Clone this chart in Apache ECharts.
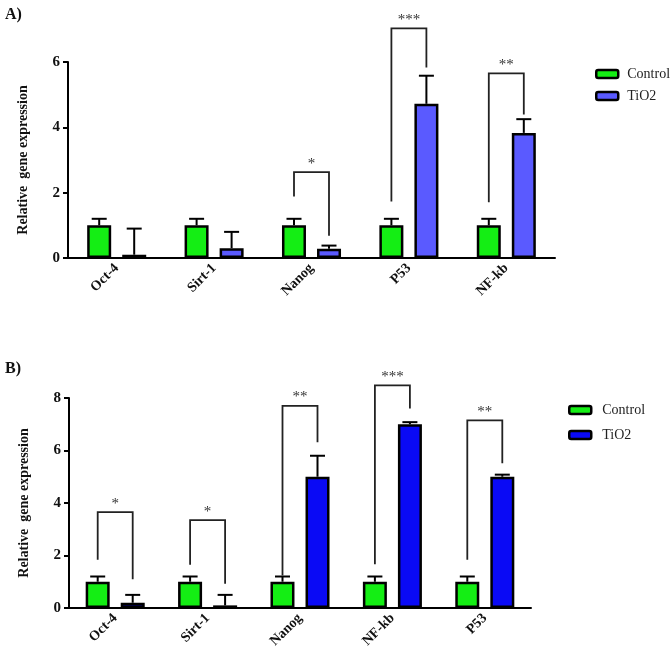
<!DOCTYPE html>
<html>
<head>
<meta charset="utf-8">
<script src="https://cdn.jsdelivr.net/npm/echarts@6/dist/echarts.min.js"></script>
<style>
html,body{margin:0;padding:0;background:#fff;}
#chart{width:671px;height:658px;}
</style>
</head>
<body>
<div id="chart"></div>
<script>
// ---- Panel A data ----
const categoriesA = ['Oct-4', 'Sirt-1', 'Nanog', 'P53', 'NF-kb'];
const controlA = [1, 1, 1, 1, 1];
const controlErrA = [0.2, 0.2, 0.2, 0.2, 0.2];
const tio2A = [0.1, 0.3, 0.28, 4.72, 3.83];
const tio2ErrA = [0.8, 0.5, 0.1, 0.86, 0.42];
// [category index, bracket top, left leg bottom, right leg bottom, label]
const sigA = [
  [2, 2.63, 1.88, 0.68, '*'],
  [3, 7.03, 1.73, 5.83, '***'],
  [4, 5.65, 1.71, 4.39, '**']
];
const yTicksA = [0, 2, 4, 6];

// ---- Panel B data ----
const categoriesB = ['Oct-4', 'Sirt-1', 'Nanog', 'NF-kb', 'P53'];
const controlB = [1, 1, 1, 1, 1];
const controlErrB = [0.2, 0.2, 0.2, 0.2, 0.2];
const tio2B = [0.2, 0.1, 5.0, 7.0, 5.0];
const tio2ErrB = [0.3, 0.4, 0.8, 0.08, 0.08];
const sigB = [
  [0, 3.65, 1.84, 1.1, '*'],
  [1, 3.35, 1.65, 0.92, '*'],
  [2, 7.7, 1.24, 6.31, '**'],
  [3, 8.48, 1.67, 7.6, '***'],
  [4, 7.15, 1.84, 5.51, '**']
];
const yTicksB = [0, 2, 4, 6, 8];

const seriesNames = ['Control', 'TiO2'];

// ---- styles ----
const GREEN = '#14ee14';
const BLUE_A = '#5a5aff';
const BLUE_B = '#0a0af5';
const FONT = 'Liberation Serif';
const BAR_W = 24;
const HALF_OFF = 17.5;

function errRender(sign) {
  return function (params, api) {
    const ci = api.value(0), v = api.value(1), e = api.value(2);
    const base = api.coord([ci, v]);
    const top = api.coord([ci, v + e]);
    const x = base[0] + sign * HALF_OFF;
    return {
      type: 'group',
      children: [
        { type: 'line', shape: { x1: x, y1: base[1], x2: x, y2: top[1] }, style: { stroke: '#000', lineWidth: 2 } },
        { type: 'line', shape: { x1: x - 7.5, y1: top[1], x2: x + 7.5, y2: top[1] }, style: { stroke: '#000', lineWidth: 2 } }
      ]
    };
  };
}

function sigRender(sigArr) {
  return function (params, api) {
    const item = sigArr[params.dataIndex];
    const ci = api.value(0);
    const t = api.coord([ci, api.value(1)]);
    const l = api.coord([ci, api.value(2)]);
    const r = api.coord([ci, api.value(3)]);
    const xl = t[0] - HALF_OFF, xr = t[0] + HALF_OFF;
    return {
      type: 'group',
      children: [
        { type: 'polyline', shape: { points: [[xl, l[1]], [xl, t[1]], [xr, t[1]], [xr, r[1]]] },
          style: { stroke: '#222', lineWidth: 1.8, fill: null } },
        { type: 'text', x: t[0], y: t[1] - 1,
          style: { text: item[4], fill: '#333', font: '15px "Liberation Serif"', align: 'center', verticalAlign: 'bottom' } }
      ]
    };
  };
}

function xAxisCfg(grid, cats) {
  return {
    type: 'category', gridIndex: grid, data: cats,
    axisLine: { lineStyle: { color: '#000', width: 2 } },
    axisTick: { alignWithLabel: true, length: 5, lineStyle: { color: '#000', width: 2 } },
    axisLabel: { rotate: 45, margin: 8, color: '#111', fontFamily: FONT, fontWeight: 'bold', fontSize: 14 }
  };
}
function yAxisCfg(grid, ticks) {
  return {
    type: 'value', gridIndex: grid, min: ticks[0], max: ticks[ticks.length - 1], interval: ticks[1] - ticks[0],
    name: 'Relative  gene expression', nameLocation: 'middle', nameGap: 38,
    nameTextStyle: { fontFamily: FONT, fontWeight: 'bold', fontSize: 14, color: '#111' },
    splitLine: { show: false },
    axisLine: { show: true, lineStyle: { color: '#000', width: 2 } },
    axisTick: { show: true, length: 5, lineStyle: { color: '#000', width: 2 } },
    axisLabel: { margin: 8, color: '#111', fontFamily: FONT, fontWeight: 'bold', fontSize: 15 }
  };
}
function barSeries(name, grid, data, color) {
  return {
    name: name, type: 'bar', xAxisIndex: grid, yAxisIndex: grid, data: data,
    barWidth: BAR_W, barGap: '46%',
    itemStyle: { color: color, borderColor: '#000', borderWidth: 2.5 },
    emphasis: { disabled: true }, z: 2
  };
}
function errSeries(grid, vals, errs, sign) {
  return {
    type: 'custom', xAxisIndex: grid, yAxisIndex: grid, clip: false, z: 3,
    data: vals.map((v, i) => [i, v, errs[i]]),
    encode: { x: 0, y: 1 },
    renderItem: errRender(sign), silent: true
  };
}
function sigSeries(grid, sig) {
  return {
    type: 'custom', xAxisIndex: grid, yAxisIndex: grid, clip: false, z: 4,
    data: sig.map(s => [s[0], s[1], s[2], s[3]]),
    encode: { x: 0, y: 1 },
    renderItem: sigRender(sig), silent: true
  };
}
function legendCfg(left, top, blue, gap, pad) {
  return {
    left: left, top: top, orient: 'vertical', icon: 'roundRect', padding: 0,
    itemWidth: 22, itemHeight: 8, itemGap: gap, selectedMode: false,
    data: [
      { name: seriesNames[0], itemStyle: { color: GREEN } },
      { name: seriesNames[1], itemStyle: { color: blue } }
    ],
    itemStyle: { borderColor: '#000', borderWidth: 2.5 },
    textStyle: { fontFamily: FONT, fontSize: 14, color: '#222', padding: [0, 0, 0, pad] }
  };
}

const chart = echarts.init(document.getElementById('chart'), null, { renderer: 'canvas' });
chart.setOption({
  animation: false,
  backgroundColor: '#fff',
  title: [
    { text: 'A)', left: 0, top: 2, textStyle: { fontFamily: FONT, fontWeight: 'bold', fontSize: 16, color: '#111' } },
    { text: 'B)', left: 0, top: 356, textStyle: { fontFamily: FONT, fontWeight: 'bold', fontSize: 16, color: '#111' } }
  ],
  legend: [legendCfg(595, 67, BLUE_A, 8, 4), legendCfg(568, 403, BLUE_B, 11, 6)],
  grid: [
    { left: 68, top: 62, width: 487, height: 196 },
    { left: 69, top: 398, width: 462, height: 210 }
  ],
  xAxis: [xAxisCfg(0, categoriesA), xAxisCfg(1, categoriesB)],
  yAxis: [yAxisCfg(0, yTicksA), yAxisCfg(1, yTicksB)],
  series: [
    barSeries(seriesNames[0], 0, controlA, GREEN),
    barSeries(seriesNames[1], 0, tio2A, BLUE_A),
    errSeries(0, controlA, controlErrA, -1),
    errSeries(0, tio2A, tio2ErrA, 1),
    sigSeries(0, sigA),
    barSeries(seriesNames[0], 1, controlB, GREEN),
    barSeries(seriesNames[1], 1, tio2B, BLUE_B),
    errSeries(1, controlB, controlErrB, -1),
    errSeries(1, tio2B, tio2ErrB, 1),
    sigSeries(1, sigB)
  ]
});
</script>
</body>
</html>
